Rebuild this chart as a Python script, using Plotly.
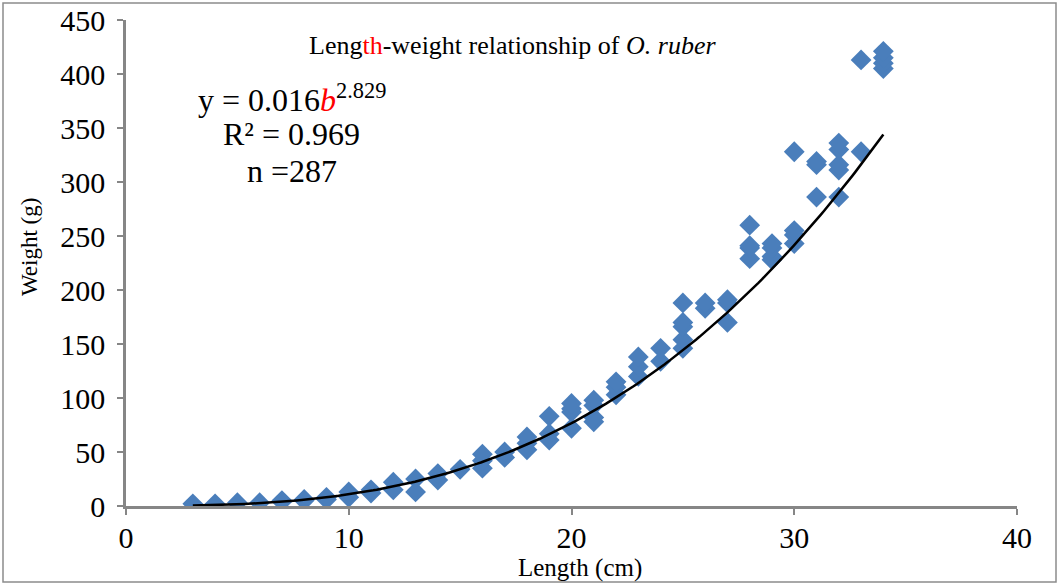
import plotly.graph_objects as go
import numpy as np

# Observed data (length cm, weight g)
length = [3, 4, 5, 6, 7, 7, 8, 8, 9, 9, 10, 10, 11, 11, 12, 12, 13, 13, 14, 14, 15,
          16, 16, 16, 17, 17, 18, 18, 18, 19, 19, 19, 20, 20, 20, 20,
          21, 21, 21, 21, 22, 22, 22, 23, 23, 23, 24, 24,
          25, 25, 25, 25, 25, 26, 26, 27, 27, 27,
          28, 28, 28, 28, 29, 29, 29, 29, 30, 30, 30, 30,
          31, 31, 31, 32, 32, 32, 32, 32, 33, 33, 34, 34, 34, 34]
weight = [2, 2, 3, 3, 4, 5, 5, 6, 6, 8, 8, 13, 12, 15, 15, 22, 13, 25, 24, 30, 34,
          35, 42, 48, 45, 50, 52, 58, 64, 61, 67, 83, 72, 87, 90, 95,
          78, 82, 93, 98, 103, 110, 115, 120, 129, 138, 134, 146,
          146, 154, 166, 170, 188, 183, 188, 170, 188, 191,
          229, 239, 241, 260, 228, 231, 239, 243, 243, 251, 255, 328,
          286, 316, 319, 286, 311, 316, 330, 336, 328, 413, 405, 410, 415, 421]

# Power trend line coefficients (from the chart)
coef_a = 0.016
coef_b = 2.829
trend_x = np.linspace(min(length), max(length), 200)
trend_y = coef_a * trend_x ** coef_b

x_ticks = [0, 10, 20, 30, 40]
y_ticks = [0, 50, 100, 150, 200, 250, 300, 350, 400, 450]

FONT = "Times New Roman, Liberation Serif, serif"
AXIS_COL = "#868686"

fig = go.Figure()
fig.add_trace(go.Scatter(
    x=length, y=weight, mode="markers",
    marker=dict(symbol="diamond", size=16, color="#4A7EBB", line=dict(width=0)),
    showlegend=False, hoverinfo="x+y"))
fig.add_trace(go.Scatter(
    x=trend_x, y=trend_y, mode="lines",
    line=dict(color="black", width=2.5), showlegend=False, hoverinfo="skip"))

W, H = 1059, 585
L, T = 126, 20
pw, ph = 1017 - 126, 506 - 20
R, B = W - L - pw, H - T - ph

def px(xp):  # page pixel -> paper x
    return (xp - L) / pw

def py(yp):  # page pixel -> paper y
    return (T + ph - yp) / ph

fig.update_layout(
    width=W, height=H,
    margin=dict(l=L, r=R, t=T, b=B, autoexpand=False),
    paper_bgcolor="white", plot_bgcolor="white",
    font=dict(family=FONT, color="black"),
    xaxis=dict(range=[0, 40], tickvals=x_ticks, ticktext=[str(v) for v in x_ticks],
               showgrid=False, zeroline=False, showline=True, linecolor=AXIS_COL, linewidth=2.5,
               ticks="outside", ticklen=6, tickwidth=2, tickcolor=AXIS_COL, automargin=False,
               ticklabeloverflow="allow",
               tickfont=dict(size=30, family=FONT), ticklabelstandoff=-3),
    yaxis=dict(range=[0, 450], tickvals=y_ticks, ticktext=[str(v) for v in y_ticks],
               showgrid=False, zeroline=False, showline=True, linecolor=AXIS_COL, linewidth=2.5,
               ticks="outside", ticklen=6, tickwidth=2, tickcolor=AXIS_COL, automargin=False,
               ticklabeloverflow="allow",
               tickfont=dict(size=30, family=FONT), ticklabelstandoff=6),
    shapes=[dict(type="rect", xref="paper", yref="paper",
                 x0=px(3), x1=px(1056), y0=py(582), y1=py(3),
                 line=dict(color="#8c8c8c", width=1.5), fillcolor="rgba(0,0,0,0)", layer="below")],
    annotations=[
        dict(text="Leng<span style='color:red'>th</span>-weight relationship of <i>O. ruber</i>",
             xref="paper", yref="paper", x=px(512), y=py(46), showarrow=False,
             xanchor="center", yanchor="middle", font=dict(size=26, family=FONT)),
        dict(text="y = 0.016<span style='color:red'><i>b</i></span><sup>2.829</sup>",
             xref="paper", yref="paper", x=px(196), y=py(98), showarrow=False,
             xanchor="left", yanchor="middle", font=dict(size=32, family=FONT)),
        dict(text="R² = 0.969",
             xref="paper", yref="paper", x=px(221), y=py(134), showarrow=False,
             xanchor="left", yanchor="middle", font=dict(size=32, family=FONT)),
        dict(text="n =287",
             xref="paper", yref="paper", x=px(245), y=py(171), showarrow=False,
             xanchor="left", yanchor="middle", font=dict(size=32, family=FONT)),
        dict(text="Length (cm)",
             xref="paper", yref="paper", x=px(580), y=py(568), showarrow=False,
             xanchor="center", yanchor="middle", font=dict(size=25, family=FONT)),
        dict(text="Weight (g)", textangle=-90,
             xref="paper", yref="paper", x=px(29), y=py(247), showarrow=False,
             xanchor="center", yanchor="middle", font=dict(size=23, family=FONT)),
    ],
)

fig.write_html("out.html", config={"displayModeBar": False},
               post_script="document.body.style.margin='0px';")
